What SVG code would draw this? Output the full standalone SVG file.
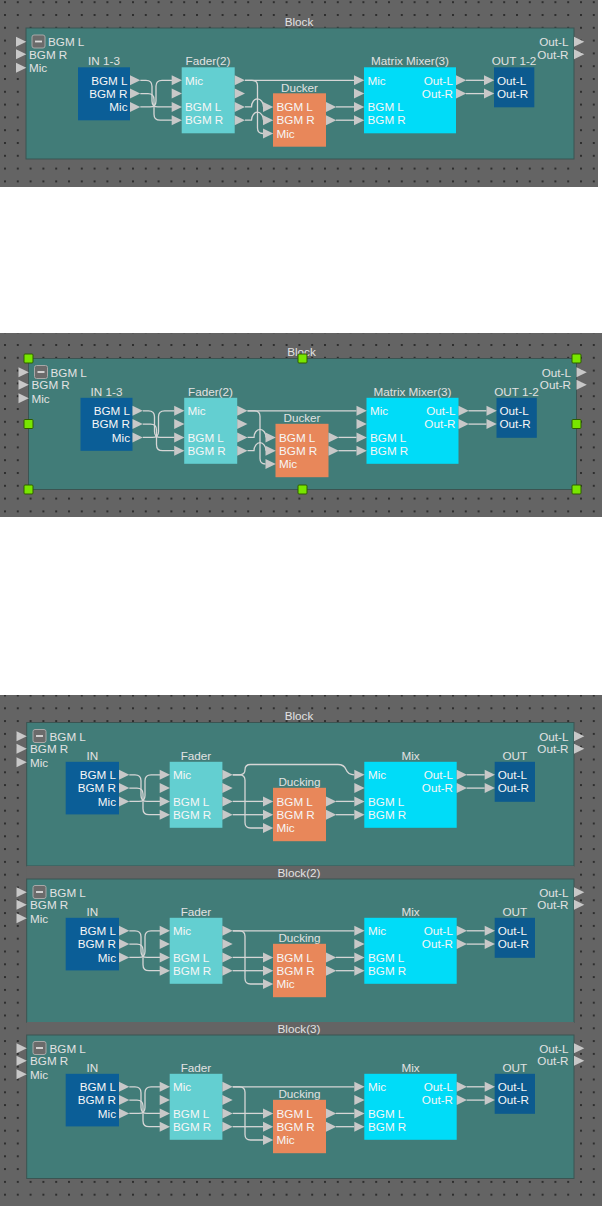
<svg xmlns="http://www.w3.org/2000/svg" xmlns:xlink="http://www.w3.org/1999/xlink" width="604" height="1206" viewBox="0 0 604 1206">
<style>
.bg{fill:#646464}
.blk{fill:#417c78;stroke:#3b5452;stroke-width:1}
.band{fill:#646464}
.lbl{font-family:"Liberation Sans",Arial,sans-serif;font-size:11.7px;fill:#e2e2e2}
.t{font-family:"Liberation Sans",Arial,sans-serif;font-size:11.7px;fill:#f6f6f6}
.end{text-anchor:end}
.mid{text-anchor:middle}
.w{fill:none;stroke:#d6d6d6;stroke-width:1.3}
.tri{fill:#c8c8c8}
.inb{fill:#0b5e97}
.outb{fill:#0c5a8f}
.fad{fill:#63cfd1}
.duc{fill:#e8875a}
.mix{fill:#00dcf8}
.mbox{fill:#6b6b6b;stroke:#a8a8a8;stroke-width:1}
.mline{stroke:#dcdcdc;stroke-width:1.8}
.hdl{fill:#78e600;stroke:#2f5c00;stroke-width:1}
</style>
<defs>
<path id="tr" class="tri" d="M0,-5 L10.3,0 L0,5 Z"/>
<pattern id="d1" x="4" y="14" width="12.8" height="12.8" patternUnits="userSpaceOnUse"><rect width="2" height="2" fill="#2e2e2e"/></pattern>
<pattern id="d2" x="4" y="344" width="12.8" height="12.8" patternUnits="userSpaceOnUse"><rect width="2" height="2" fill="#2e2e2e"/></pattern>
<pattern id="d3" x="4" y="707.3" width="12.8" height="12.8" patternUnits="userSpaceOnUse"><rect width="2" height="2" fill="#2e2e2e"/></pattern>
</defs>

<!-- ================= PANEL 1 ================= -->
<g id="panel1-bg">
<rect class="bg" x="0" y="0" width="598" height="187"/>
<rect fill="url(#d1)" x="0" y="0" width="598" height="187"/>
</g>
<g id="p1-block">
<text class="lbl mid" x="299" y="25.5">Block</text>
<rect class="blk" x="26" y="28" width="548" height="131"/>
</g>
<g id="p1-wires">
<path class="w" d="M140.3,80.3 H146 Q152,80.3 152,86.3 V100.9 Q152,106.9 158,106.9 H172"/>
<path class="w" d="M140.3,93.6 H148 Q154,93.6 154,99.6 V114.2 Q154,120.2 160,120.2 H172"/>
<path class="w" d="M140.3,106.9 H150 Q156,106.9 156,100.9 V86.3 Q156,80.3 162,80.3 H172"/>
<path class="w" d="M245,80.3 H354"/>
<path class="w" d="M245,80.3 H252 Q257.5,80.3 257.5,85.8 V128 Q257.5,133.5 263,133.5"/>
<path class="w" d="M245,106.9 H251.5 A6,8 0 0 1 263.5,106.9"/>
<path class="w" d="M245,120.2 H251.5 A6,8 0 0 1 263.5,120.2"/>
<path class="w" d="M336,106.9 H354"/>
<path class="w" d="M336,120.2 H354"/>
<path class="w" d="M466,80.3 H484"/>
<path class="w" d="M466,93.6 H484"/>
</g>
<g id="p1-ports-in">
<use href="#tr" x="16" y="41.7"/><use href="#tr" x="16" y="54.3"/><use href="#tr" x="16" y="67.7"/>
<rect class="mbox" x="32" y="35" width="13" height="13" rx="2"/>
<line class="mline" x1="35" y1="41.5" x2="42" y2="41.5"/>
<text class="lbl" x="48" y="46">BGM L</text>
<text class="lbl" x="29" y="58.6">BGM R</text>
<text class="lbl" x="29" y="72">Mic</text>
</g>
<g id="p1-ports-out">
<text class="lbl end" x="568.5" y="46">Out-L</text>
<text class="lbl end" x="568.5" y="58.6">Out-R</text>
<use href="#tr" x="574" y="41.7"/><use href="#tr" x="574" y="54.3"/>
</g>
<g id="p1-in">
<text class="lbl mid" x="104" y="65">IN 1-3</text>
<rect class="inb" x="78" y="67.3" width="52" height="53"/>
<text class="t end" x="127.5" y="84.5">BGM L</text>
<text class="t end" x="127.5" y="97.8">BGM R</text>
<text class="t end" x="127.5" y="111.1">Mic</text>
<use href="#tr" x="130" y="80.3"/><use href="#tr" x="130" y="93.6"/><use href="#tr" x="130" y="106.9"/>
</g>
<g id="p1-fader">
<text class="lbl mid" x="208" y="65">Fader(2)</text>
<rect class="fad" x="181.7" y="67.3" width="53" height="66"/>
<use href="#tr" x="171.7" y="80.3"/><use href="#tr" x="171.7" y="93.6"/><use href="#tr" x="171.7" y="106.9"/><use href="#tr" x="171.7" y="120.2"/>
<text class="t" x="185" y="84.5">Mic</text>
<text class="t" x="185" y="111.1">BGM L</text>
<text class="t" x="185" y="124.4">BGM R</text>
<use href="#tr" x="234.7" y="80.3"/><use href="#tr" x="234.7" y="93.6"/><use href="#tr" x="234.7" y="106.9"/><use href="#tr" x="234.7" y="120.2"/>
</g>
<g id="p1-ducker">
<text class="lbl mid" x="299.5" y="91.5">Ducker</text>
<rect class="duc" x="273" y="93.3" width="53" height="53.4"/>
<use href="#tr" x="263" y="106.9"/><use href="#tr" x="263" y="120.2"/><use href="#tr" x="263" y="133.5"/>
<text class="t" x="276.5" y="111.1">BGM L</text>
<text class="t" x="276.5" y="124.4">BGM R</text>
<text class="t" x="276.5" y="137.7">Mic</text>
<use href="#tr" x="326" y="106.9"/><use href="#tr" x="326" y="120.2"/>
</g>
<g id="p1-matrix">
<text class="lbl mid" x="410" y="65">Matrix Mixer(3)</text>
<rect class="mix" x="364" y="67.3" width="92" height="66"/>
<use href="#tr" x="354" y="80.3"/><use href="#tr" x="354" y="93.6"/><use href="#tr" x="354" y="106.9"/><use href="#tr" x="354" y="120.2"/>
<text class="t" x="367.5" y="84.5">Mic</text>
<text class="t" x="367.5" y="111.1">BGM L</text>
<text class="t" x="367.5" y="124.4">BGM R</text>
<text class="t end" x="453" y="84.5">Out-L</text>
<text class="t end" x="453" y="97.8">Out-R</text>
<use href="#tr" x="456" y="80.3"/><use href="#tr" x="456" y="93.6"/>
</g>
<g id="p1-out">
<text class="lbl mid" x="514" y="65">OUT 1-2</text>
<rect class="outb" x="494" y="67.3" width="40.3" height="40"/>
<use href="#tr" x="484" y="80.3"/><use href="#tr" x="484" y="93.6"/>
<text class="t" x="497" y="84.5">Out-L</text>
<text class="t" x="497" y="97.8">Out-R</text>
</g>

<!-- ================= PANEL 2 ================= -->
<g id="panel2-bg">
<rect class="bg" x="0" y="333" width="602" height="184"/>
<rect fill="url(#d2)" x="0" y="333" width="602" height="184"/>
</g>
<g transform="translate(2.5,330.5)">
<g id="p2-block">
<text class="lbl mid" x="299" y="25.5">Block</text>
<rect class="blk" x="26" y="28" width="548" height="131"/>
</g>
<g id="p2-wires">
<path class="w" d="M140.3,80.3 H146 Q152,80.3 152,86.3 V100.9 Q152,106.9 158,106.9 H172"/>
<path class="w" d="M140.3,93.6 H148 Q154,93.6 154,99.6 V114.2 Q154,120.2 160,120.2 H172"/>
<path class="w" d="M140.3,106.9 H150 Q156,106.9 156,100.9 V86.3 Q156,80.3 162,80.3 H172"/>
<path class="w" d="M245,80.3 H354"/>
<path class="w" d="M245,80.3 H252 Q257.5,80.3 257.5,85.8 V128 Q257.5,133.5 263,133.5"/>
<path class="w" d="M245,106.9 H251.5 A6,8 0 0 1 263.5,106.9"/>
<path class="w" d="M245,120.2 H251.5 A6,8 0 0 1 263.5,120.2"/>
<path class="w" d="M336,106.9 H354"/>
<path class="w" d="M336,120.2 H354"/>
<path class="w" d="M466,80.3 H484"/>
<path class="w" d="M466,93.6 H484"/>
</g>
<g id="p2-ports-in">
<use href="#tr" x="16" y="41.7"/><use href="#tr" x="16" y="54.3"/><use href="#tr" x="16" y="67.7"/>
<rect class="mbox" x="32" y="35" width="13" height="13" rx="2"/>
<line class="mline" x1="35" y1="41.5" x2="42" y2="41.5"/>
<text class="lbl" x="48" y="46">BGM L</text>
<text class="lbl" x="29" y="58.6">BGM R</text>
<text class="lbl" x="29" y="72">Mic</text>
</g>
<g id="p2-ports-out">
<text class="lbl end" x="568.5" y="46">Out-L</text>
<text class="lbl end" x="568.5" y="58.6">Out-R</text>
<use href="#tr" x="574" y="41.7"/><use href="#tr" x="574" y="54.3"/>
</g>
<g id="p2-in">
<text class="lbl mid" x="104" y="65">IN 1-3</text>
<rect class="inb" x="78" y="67.3" width="52" height="53"/>
<text class="t end" x="127.5" y="84.5">BGM L</text>
<text class="t end" x="127.5" y="97.8">BGM R</text>
<text class="t end" x="127.5" y="111.1">Mic</text>
<use href="#tr" x="130" y="80.3"/><use href="#tr" x="130" y="93.6"/><use href="#tr" x="130" y="106.9"/>
</g>
<g id="p2-fader">
<text class="lbl mid" x="208" y="65">Fader(2)</text>
<rect class="fad" x="181.7" y="67.3" width="53" height="66"/>
<use href="#tr" x="171.7" y="80.3"/><use href="#tr" x="171.7" y="93.6"/><use href="#tr" x="171.7" y="106.9"/><use href="#tr" x="171.7" y="120.2"/>
<text class="t" x="185" y="84.5">Mic</text>
<text class="t" x="185" y="111.1">BGM L</text>
<text class="t" x="185" y="124.4">BGM R</text>
<use href="#tr" x="234.7" y="80.3"/><use href="#tr" x="234.7" y="93.6"/><use href="#tr" x="234.7" y="106.9"/><use href="#tr" x="234.7" y="120.2"/>
</g>
<g id="p2-ducker">
<text class="lbl mid" x="299.5" y="91.5">Ducker</text>
<rect class="duc" x="273" y="93.3" width="53" height="53.4"/>
<use href="#tr" x="263" y="106.9"/><use href="#tr" x="263" y="120.2"/><use href="#tr" x="263" y="133.5"/>
<text class="t" x="276.5" y="111.1">BGM L</text>
<text class="t" x="276.5" y="124.4">BGM R</text>
<text class="t" x="276.5" y="137.7">Mic</text>
<use href="#tr" x="326" y="106.9"/><use href="#tr" x="326" y="120.2"/>
</g>
<g id="p2-matrix">
<text class="lbl mid" x="410" y="65">Matrix Mixer(3)</text>
<rect class="mix" x="364" y="67.3" width="92" height="66"/>
<use href="#tr" x="354" y="80.3"/><use href="#tr" x="354" y="93.6"/><use href="#tr" x="354" y="106.9"/><use href="#tr" x="354" y="120.2"/>
<text class="t" x="367.5" y="84.5">Mic</text>
<text class="t" x="367.5" y="111.1">BGM L</text>
<text class="t" x="367.5" y="124.4">BGM R</text>
<text class="t end" x="453" y="84.5">Out-L</text>
<text class="t end" x="453" y="97.8">Out-R</text>
<use href="#tr" x="456" y="80.3"/><use href="#tr" x="456" y="93.6"/>
</g>
<g id="p2-out">
<text class="lbl mid" x="514" y="65">OUT 1-2</text>
<rect class="outb" x="494" y="67.3" width="40.3" height="40"/>
<use href="#tr" x="484" y="80.3"/><use href="#tr" x="484" y="93.6"/>
<text class="t" x="497" y="84.5">Out-L</text>
<text class="t" x="497" y="97.8">Out-R</text>
</g>
<g id="p2-handles">
<rect class="hdl" x="21.5" y="23.5" width="9" height="9" rx="1"/>
<rect class="hdl" x="295.5" y="23.5" width="9" height="9" rx="1"/>
<rect class="hdl" x="569.5" y="23.5" width="9" height="9" rx="1"/>
<rect class="hdl" x="21.5" y="89" width="9" height="9" rx="1"/>
<rect class="hdl" x="569.5" y="89" width="9" height="9" rx="1"/>
<rect class="hdl" x="21.5" y="154.5" width="9" height="9" rx="1"/>
<rect class="hdl" x="295.5" y="154.5" width="9" height="9" rx="1"/>
<rect class="hdl" x="569.5" y="154.5" width="9" height="9" rx="1"/>
</g>
</g>

<!-- ================= PANEL 3 ================= -->
<g id="panel3-bg">
<rect class="bg" x="0" y="695" width="602" height="511"/>
<rect fill="url(#d3)" x="0" y="695" width="602" height="511"/>
</g>

<!-- Block 1 -->
<g transform="translate(0,694.5)">
<g id="p3b1-block">
<text class="lbl mid" x="299" y="25.5">Block</text>
<rect class="blk" x="26.7" y="28" width="547.3" height="143.5"/>
</g>
<g id="p3b1-wires">
<path class="w" d="M129.3,80.3 H135 Q141,80.3 141,86.3 V100.9 Q141,106.9 147,106.9 H160"/>
<path class="w" d="M129.3,93.6 H137 Q143,93.6 143,99.6 V114.2 Q143,120.2 149,120.2 H160"/>
<path class="w" d="M129.3,106.9 H139 Q145,106.9 145,100.9 V86.3 Q145,80.3 151,80.3 H160"/>
<path class="w" d="M232.7,80.3 H239.5 Q245,80.3 245,75.3 Q245,70 250.5,70 H338 Q344,70 346,75 Q348,80.3 354.3,80.3"/>
<path class="w" d="M232.7,80.3 H239.5 Q245,80.3 245,85.8 V128 Q245,133.5 250.5,133.5 H263"/>
<path class="w" d="M232.7,106.9 H263"/>
<path class="w" d="M232.7,120.2 H263"/>
<path class="w" d="M336,106.9 H354.3"/>
<path class="w" d="M336,120.2 H354.3"/>
<path class="w" d="M466.7,80.3 H484.7"/>
<path class="w" d="M466.7,93.6 H484.7"/>
</g>
<g id="p3b1-ports-in">
<use href="#tr" x="16.5" y="41.7"/><use href="#tr" x="16.5" y="54.3"/><use href="#tr" x="16.5" y="67.7"/>
<rect class="mbox" x="33" y="35" width="13" height="13" rx="2"/>
<line class="mline" x1="36" y1="41.5" x2="43" y2="41.5"/>
<text class="lbl" x="49.5" y="46">BGM L</text>
<text class="lbl" x="30" y="58.6">BGM R</text>
<text class="lbl" x="30" y="72">Mic</text>
</g>
<g id="p3b1-ports-out">
<text class="lbl end" x="568.5" y="46">Out-L</text>
<text class="lbl end" x="568.5" y="58.6">Out-R</text>
<use href="#tr" x="574" y="41.7"/><use href="#tr" x="574" y="54.3"/>
</g>
<g id="p3b1-in">
<text class="lbl mid" x="92.3" y="65">IN</text>
<rect class="inb" x="65.7" y="67.3" width="53.3" height="52.6"/>
<text class="t end" x="116" y="84.5">BGM L</text>
<text class="t end" x="116" y="97.8">BGM R</text>
<text class="t end" x="116" y="111.1">Mic</text>
<use href="#tr" x="119" y="80.3"/><use href="#tr" x="119" y="93.6"/><use href="#tr" x="119" y="106.9"/>
</g>
<g id="p3b1-fader">
<text class="lbl mid" x="196" y="65">Fader</text>
<rect class="fad" x="169.7" y="67.3" width="52.7" height="66"/>
<use href="#tr" x="159.7" y="80.3"/><use href="#tr" x="159.7" y="93.6"/><use href="#tr" x="159.7" y="106.9"/><use href="#tr" x="159.7" y="120.2"/>
<text class="t" x="173" y="84.5">Mic</text>
<text class="t" x="173" y="111.1">BGM L</text>
<text class="t" x="173" y="124.4">BGM R</text>
<use href="#tr" x="222.4" y="80.3"/><use href="#tr" x="222.4" y="93.6"/><use href="#tr" x="222.4" y="106.9"/><use href="#tr" x="222.4" y="120.2"/>
</g>
<g id="p3b1-ducking">
<text class="lbl mid" x="299.5" y="91.5">Ducking</text>
<rect class="duc" x="273" y="93.3" width="53" height="53.4"/>
<use href="#tr" x="263" y="106.9"/><use href="#tr" x="263" y="120.2"/><use href="#tr" x="263" y="133.5"/>
<text class="t" x="276.5" y="111.1">BGM L</text>
<text class="t" x="276.5" y="124.4">BGM R</text>
<text class="t" x="276.5" y="137.7">Mic</text>
<use href="#tr" x="326" y="106.9"/><use href="#tr" x="326" y="120.2"/>
</g>
<g id="p3b1-mix">
<text class="lbl mid" x="410.5" y="65">Mix</text>
<rect class="mix" x="364.3" y="67.3" width="92.4" height="66"/>
<use href="#tr" x="354.3" y="80.3"/><use href="#tr" x="354.3" y="93.6"/><use href="#tr" x="354.3" y="106.9"/><use href="#tr" x="354.3" y="120.2"/>
<text class="t" x="368" y="84.5">Mic</text>
<text class="t" x="368" y="111.1">BGM L</text>
<text class="t" x="368" y="124.4">BGM R</text>
<text class="t end" x="453" y="84.5">Out-L</text>
<text class="t end" x="453" y="97.8">Out-R</text>
<use href="#tr" x="456.7" y="80.3"/><use href="#tr" x="456.7" y="93.6"/>
</g>
<g id="p3b1-out">
<text class="lbl mid" x="514.8" y="65">OUT</text>
<rect class="outb" x="494.7" y="67.3" width="40.3" height="40"/>
<use href="#tr" x="484.7" y="80.3"/><use href="#tr" x="484.7" y="93.6"/>
<text class="t" x="497.7" y="84.5">Out-L</text>
<text class="t" x="497.7" y="97.8">Out-R</text>
</g>
</g>

<!-- Block 2 -->
<g transform="translate(0,850.5)">
<g id="p3b2-block">
<rect class="band" x="26.7" y="15.5" width="547.3" height="13"/>
<text class="lbl mid" x="299" y="26.5">Block(2)</text>
<rect class="blk" x="26.7" y="28.5" width="547.3" height="143.5"/>
</g>
<g id="p3b2-wires">
<path class="w" d="M129.3,80.3 H135 Q141,80.3 141,86.3 V100.9 Q141,106.9 147,106.9 H160"/>
<path class="w" d="M129.3,93.6 H137 Q143,93.6 143,99.6 V114.2 Q143,120.2 149,120.2 H160"/>
<path class="w" d="M129.3,106.9 H139 Q145,106.9 145,100.9 V86.3 Q145,80.3 151,80.3 H160"/>
<path class="w" d="M232.7,80.3 H354.3"/>
<path class="w" d="M232.7,80.3 H239.5 Q245,80.3 245,85.8 V128 Q245,133.5 250.5,133.5 H263"/>
<path class="w" d="M232.7,106.9 H263"/>
<path class="w" d="M232.7,120.2 H263"/>
<path class="w" d="M336,106.9 H354.3"/>
<path class="w" d="M336,120.2 H354.3"/>
<path class="w" d="M466.7,80.3 H484.7"/>
<path class="w" d="M466.7,93.6 H484.7"/>
</g>
<g id="p3b2-ports-in">
<use href="#tr" x="16.5" y="41.7"/><use href="#tr" x="16.5" y="54.3"/><use href="#tr" x="16.5" y="67.7"/>
<rect class="mbox" x="33" y="35" width="13" height="13" rx="2"/>
<line class="mline" x1="36" y1="41.5" x2="43" y2="41.5"/>
<text class="lbl" x="49.5" y="46">BGM L</text>
<text class="lbl" x="30" y="58.6">BGM R</text>
<text class="lbl" x="30" y="72">Mic</text>
</g>
<g id="p3b2-ports-out">
<text class="lbl end" x="568.5" y="46">Out-L</text>
<text class="lbl end" x="568.5" y="58.6">Out-R</text>
<use href="#tr" x="574" y="41.7"/><use href="#tr" x="574" y="54.3"/>
</g>
<g id="p3b2-in">
<text class="lbl mid" x="92.3" y="65">IN</text>
<rect class="inb" x="65.7" y="67.3" width="53.3" height="52.6"/>
<text class="t end" x="116" y="84.5">BGM L</text>
<text class="t end" x="116" y="97.8">BGM R</text>
<text class="t end" x="116" y="111.1">Mic</text>
<use href="#tr" x="119" y="80.3"/><use href="#tr" x="119" y="93.6"/><use href="#tr" x="119" y="106.9"/>
</g>
<g id="p3b2-fader">
<text class="lbl mid" x="196" y="65">Fader</text>
<rect class="fad" x="169.7" y="67.3" width="52.7" height="66"/>
<use href="#tr" x="159.7" y="80.3"/><use href="#tr" x="159.7" y="93.6"/><use href="#tr" x="159.7" y="106.9"/><use href="#tr" x="159.7" y="120.2"/>
<text class="t" x="173" y="84.5">Mic</text>
<text class="t" x="173" y="111.1">BGM L</text>
<text class="t" x="173" y="124.4">BGM R</text>
<use href="#tr" x="222.4" y="80.3"/><use href="#tr" x="222.4" y="93.6"/><use href="#tr" x="222.4" y="106.9"/><use href="#tr" x="222.4" y="120.2"/>
</g>
<g id="p3b2-ducking">
<text class="lbl mid" x="299.5" y="91.5">Ducking</text>
<rect class="duc" x="273" y="93.3" width="53" height="53.4"/>
<use href="#tr" x="263" y="106.9"/><use href="#tr" x="263" y="120.2"/><use href="#tr" x="263" y="133.5"/>
<text class="t" x="276.5" y="111.1">BGM L</text>
<text class="t" x="276.5" y="124.4">BGM R</text>
<text class="t" x="276.5" y="137.7">Mic</text>
<use href="#tr" x="326" y="106.9"/><use href="#tr" x="326" y="120.2"/>
</g>
<g id="p3b2-mix">
<text class="lbl mid" x="410.5" y="65">Mix</text>
<rect class="mix" x="364.3" y="67.3" width="92.4" height="66"/>
<use href="#tr" x="354.3" y="80.3"/><use href="#tr" x="354.3" y="93.6"/><use href="#tr" x="354.3" y="106.9"/><use href="#tr" x="354.3" y="120.2"/>
<text class="t" x="368" y="84.5">Mic</text>
<text class="t" x="368" y="111.1">BGM L</text>
<text class="t" x="368" y="124.4">BGM R</text>
<text class="t end" x="453" y="84.5">Out-L</text>
<text class="t end" x="453" y="97.8">Out-R</text>
<use href="#tr" x="456.7" y="80.3"/><use href="#tr" x="456.7" y="93.6"/>
</g>
<g id="p3b2-out">
<text class="lbl mid" x="514.8" y="65">OUT</text>
<rect class="outb" x="494.7" y="67.3" width="40.3" height="40"/>
<use href="#tr" x="484.7" y="80.3"/><use href="#tr" x="484.7" y="93.6"/>
<text class="t" x="497.7" y="84.5">Out-L</text>
<text class="t" x="497.7" y="97.8">Out-R</text>
</g>
</g>

<!-- Block 3 -->
<g transform="translate(0,1006.5)">
<g id="p3b3-block">
<rect class="band" x="26.7" y="15.5" width="547.3" height="13"/>
<text class="lbl mid" x="299" y="26.5">Block(3)</text>
<rect class="blk" x="26.7" y="28.5" width="547.3" height="143.5"/>
</g>
<g id="p3b3-wires">
<path class="w" d="M129.3,80.3 H135 Q141,80.3 141,86.3 V100.9 Q141,106.9 147,106.9 H160"/>
<path class="w" d="M129.3,93.6 H137 Q143,93.6 143,99.6 V114.2 Q143,120.2 149,120.2 H160"/>
<path class="w" d="M129.3,106.9 H139 Q145,106.9 145,100.9 V86.3 Q145,80.3 151,80.3 H160"/>
<path class="w" d="M232.7,80.3 H354.3"/>
<path class="w" d="M232.7,80.3 H239.5 Q245,80.3 245,85.8 V128 Q245,133.5 250.5,133.5 H263"/>
<path class="w" d="M232.7,106.9 H263"/>
<path class="w" d="M232.7,120.2 H263"/>
<path class="w" d="M336,106.9 H354.3"/>
<path class="w" d="M336,120.2 H354.3"/>
<path class="w" d="M466.7,80.3 H484.7"/>
<path class="w" d="M466.7,93.6 H484.7"/>
</g>
<g id="p3b3-ports-in">
<use href="#tr" x="16.5" y="41.7"/><use href="#tr" x="16.5" y="54.3"/><use href="#tr" x="16.5" y="67.7"/>
<rect class="mbox" x="33" y="35" width="13" height="13" rx="2"/>
<line class="mline" x1="36" y1="41.5" x2="43" y2="41.5"/>
<text class="lbl" x="49.5" y="46">BGM L</text>
<text class="lbl" x="30" y="58.6">BGM R</text>
<text class="lbl" x="30" y="72">Mic</text>
</g>
<g id="p3b3-ports-out">
<text class="lbl end" x="568.5" y="46">Out-L</text>
<text class="lbl end" x="568.5" y="58.6">Out-R</text>
<use href="#tr" x="574" y="41.7"/><use href="#tr" x="574" y="54.3"/>
</g>
<g id="p3b3-in">
<text class="lbl mid" x="92.3" y="65">IN</text>
<rect class="inb" x="65.7" y="67.3" width="53.3" height="52.6"/>
<text class="t end" x="116" y="84.5">BGM L</text>
<text class="t end" x="116" y="97.8">BGM R</text>
<text class="t end" x="116" y="111.1">Mic</text>
<use href="#tr" x="119" y="80.3"/><use href="#tr" x="119" y="93.6"/><use href="#tr" x="119" y="106.9"/>
</g>
<g id="p3b3-fader">
<text class="lbl mid" x="196" y="65">Fader</text>
<rect class="fad" x="169.7" y="67.3" width="52.7" height="66"/>
<use href="#tr" x="159.7" y="80.3"/><use href="#tr" x="159.7" y="93.6"/><use href="#tr" x="159.7" y="106.9"/><use href="#tr" x="159.7" y="120.2"/>
<text class="t" x="173" y="84.5">Mic</text>
<text class="t" x="173" y="111.1">BGM L</text>
<text class="t" x="173" y="124.4">BGM R</text>
<use href="#tr" x="222.4" y="80.3"/><use href="#tr" x="222.4" y="93.6"/><use href="#tr" x="222.4" y="106.9"/><use href="#tr" x="222.4" y="120.2"/>
</g>
<g id="p3b3-ducking">
<text class="lbl mid" x="299.5" y="91.5">Ducking</text>
<rect class="duc" x="273" y="93.3" width="53" height="53.4"/>
<use href="#tr" x="263" y="106.9"/><use href="#tr" x="263" y="120.2"/><use href="#tr" x="263" y="133.5"/>
<text class="t" x="276.5" y="111.1">BGM L</text>
<text class="t" x="276.5" y="124.4">BGM R</text>
<text class="t" x="276.5" y="137.7">Mic</text>
<use href="#tr" x="326" y="106.9"/><use href="#tr" x="326" y="120.2"/>
</g>
<g id="p3b3-mix">
<text class="lbl mid" x="410.5" y="65">Mix</text>
<rect class="mix" x="364.3" y="67.3" width="92.4" height="66"/>
<use href="#tr" x="354.3" y="80.3"/><use href="#tr" x="354.3" y="93.6"/><use href="#tr" x="354.3" y="106.9"/><use href="#tr" x="354.3" y="120.2"/>
<text class="t" x="368" y="84.5">Mic</text>
<text class="t" x="368" y="111.1">BGM L</text>
<text class="t" x="368" y="124.4">BGM R</text>
<text class="t end" x="453" y="84.5">Out-L</text>
<text class="t end" x="453" y="97.8">Out-R</text>
<use href="#tr" x="456.7" y="80.3"/><use href="#tr" x="456.7" y="93.6"/>
</g>
<g id="p3b3-out">
<text class="lbl mid" x="514.8" y="65">OUT</text>
<rect class="outb" x="494.7" y="67.3" width="40.3" height="40"/>
<use href="#tr" x="484.7" y="80.3"/><use href="#tr" x="484.7" y="93.6"/>
<text class="t" x="497.7" y="84.5">Out-L</text>
<text class="t" x="497.7" y="97.8">Out-R</text>
</g>
</g>
</svg>
